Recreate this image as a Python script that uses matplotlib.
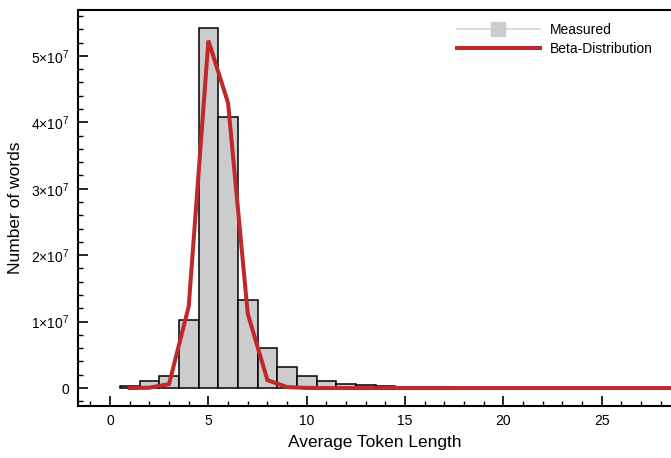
import matplotlib
matplotlib.use("Agg")
import matplotlib.pyplot as plt
from matplotlib.lines import Line2D
from matplotlib.ticker import MultipleLocator, FuncFormatter

plt.rcParams['font.family'] = ['Liberation Sans', 'DejaVu Sans']
plt.rcParams['mathtext.fontset'] = 'custom'
plt.rcParams['mathtext.rm'] = 'Liberation Sans'

# Measured histogram: word counts per average token length (bins of width 1)
token_len = list(range(1, 29))
measured = [0.25e6, 1.1e6, 1.8e6, 1.02e7, 5.42e7, 4.08e7, 1.33e7, 6.0e6,
            3.1e6, 1.8e6, 1.1e6, 0.65e6, 0.45e6, 0.32e6, 0.22e6, 0.16e6,
            0.11e6, 0.08e6, 0.06e6, 0.05e6, 0.04e6, 0.03e6, 0.02e6, 0.02e6,
            0.01e6, 0.01e6, 0.01e6, 0.01e6]

# Beta-distribution fit evaluated at integer lengths
beta_x = list(range(1, 30))
beta_y = [0.0, 0.05e6, 0.6e6, 1.23e7, 5.23e7, 4.29e7, 1.12e7, 1.2e6,
          0.15e6, 0.02e6, 0, 0, 0, 0, 0, 0, 0, 0, 0, 0, 0, 0, 0, 0, 0,
          0, 0, 0, 0]

RED = '#c0282a'

fig = plt.figure(figsize=(6.71, 4.58), dpi=100)
ax = fig.add_axes([78 / 671, 1 - 406 / 458, 1 - 78 / 671, 396 / 458])

ax.bar(token_len, measured, width=1.0, color='#cccccc', edgecolor='black',
       linewidth=1.1, zorder=2)
ax.plot(beta_x, beta_y, color=RED, linewidth=2.9, zorder=3,
        solid_joinstyle='miter')

ax.set_xlim(-1.63, 28.52)
ax.set_ylim(-0.27e7, 5.69e7)

ax.spines['right'].set_visible(False)
for s in ['left', 'top', 'bottom']:
    ax.spines[s].set_linewidth(1.5)

ax.xaxis.set_major_locator(MultipleLocator(5))
ax.xaxis.set_minor_locator(MultipleLocator(1))
ax.yaxis.set_major_locator(MultipleLocator(1e7))
ax.yaxis.set_minor_locator(MultipleLocator(2e6))


def yfmt(v, pos):
    n = int(round(v / 1e7))
    if n == 0:
        return '0'
    return r'$\mathregular{%d{\times}10^{7}}$' % n


ax.yaxis.set_major_formatter(FuncFormatter(yfmt))
ax.tick_params(which='both', direction='in', top=False, right=False,
               labelsize=10, width=1.2, pad=6)
ax.tick_params(which='major', length=7)
ax.tick_params(which='minor', length=3.5, width=1.0)

ax.set_xlabel('Average Token Length', fontsize=12.5, labelpad=5)
ax.set_ylabel('Number of words', fontsize=12.5, labelpad=6)

handles = [
    Line2D([0], [0], color='#d4d4d4', linewidth=1.2, marker='s',
           markersize=10, markerfacecolor='#cccccc', markeredgecolor='#cccccc'),
    Line2D([0], [0], color=RED, linewidth=2.9),
]
ax.legend(handles, ['Measured', 'Beta-Distribution'], loc='upper right',
          bbox_to_anchor=(0.99, 1.0), frameon=False, fontsize=10,
          handlelength=6.0, labelspacing=0.42, handletextpad=0.7)

fig.savefig('out.png', dpi=100)
